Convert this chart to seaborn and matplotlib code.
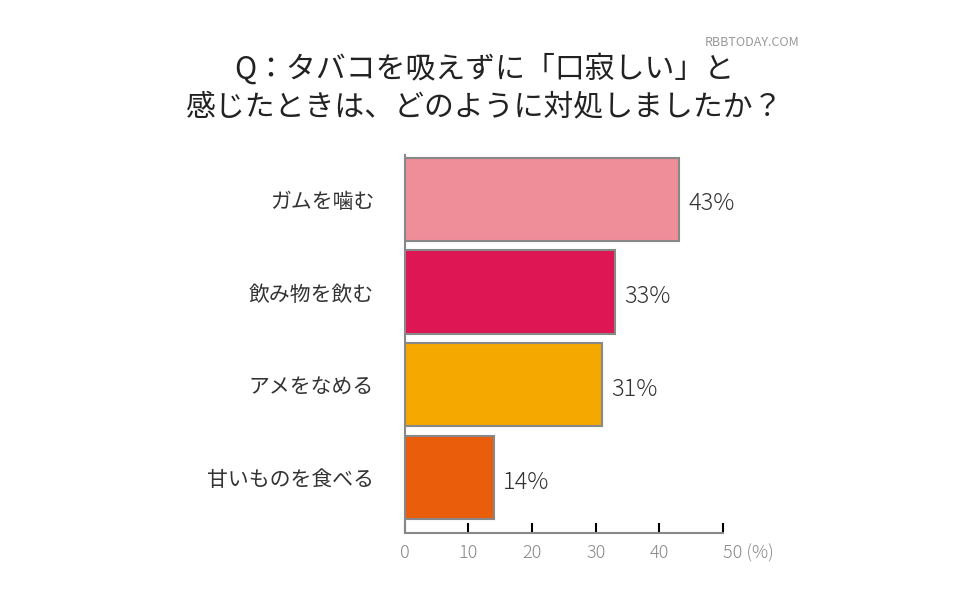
import matplotlib
matplotlib.use('Agg')
from matplotlib import pyplot as plt
import seaborn as sns
import pandas as pd

plt.rcParams['font.family'] = ['Noto Sans CJK JP']

categories = ['ガムを噛む', '飲み物を飲む', 'アメをなめる', '甘いものを食べる']
values = [43, 33, 31, 14]
colors = ['#EF8E99', '#DE1654', '#F4A800', '#EA5D0B']
xticks = [0, 10, 20, 30, 40, 50]

df = pd.DataFrame({'cat': categories, 'val': values})

fig = plt.figure(figsize=(9.68, 6.05), dpi=100)
ax = fig.add_axes([0.418, 0.119, 0.329, 0.625])
sns.barplot(data=df, x='val', y='cat', hue='cat', palette=colors, legend=False,
            saturation=1, width=0.9, edgecolor='#888888', linewidth=1.5, ax=ax)

for i, v in enumerate(values):
    ax.text(v + 1.5, i + 0.05, f'{v}%', va='center', ha='left', fontsize=17,
            color='#333333', fontweight='light')

ax.set_xlim(0, 50)
ax.set_ylim(3.6, -0.48)
ax.set_xticks(xticks)
ax.set_xticklabels([str(t) for t in xticks[:-1]] + ['50 (%)'], color='#888888', fontsize=13,
                   fontweight='light')
ax.get_xticklabels()[-1].set_horizontalalignment('left')
ax.get_xticklabels()[-1].set_x(49.3)
ax.tick_params(axis='x', direction='in', length=7, width=1.5, color='black', pad=8)
ax.tick_params(axis='y', length=0, pad=22, labelsize=15, labelcolor='#333333')
ax.set_xlabel('')
ax.set_ylabel('')
for s in ['top', 'right']:
    ax.spines[s].set_visible(False)
for s in ['left', 'bottom']:
    ax.spines[s].set_color('#888888')
    ax.spines[s].set_linewidth(1.5)

fig.text(0.5, 0.855, 'Q：タバコを吸えずに「口寂しい」と\n感じたときは、どのように対処しましたか？',
         ha='center', va='center', fontsize=21.5, color='#222222', linespacing=1.25)
fig.text(0.826, 0.93, 'RBBTODAY.COM', ha='right', va='center', fontsize=9, color='#999999')

fig.savefig('out.png', dpi=100, facecolor='white')
